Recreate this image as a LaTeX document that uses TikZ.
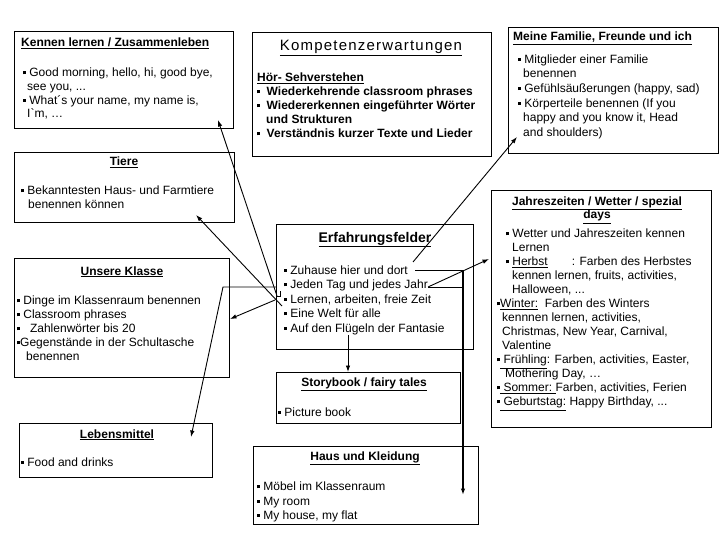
\documentclass[tikz,border=0pt]{standalone}
\usepackage{fontspec}
\setmainfont{Liberation Sans}
\usetikzlibrary{arrows.meta}
\tikzset{>=latex}
\tikzset{box/.style = {draw, line width=0.9pt, anchor=north west, inner sep=0pt}}
\tikzset{head/.style = {anchor=base, inner sep=0pt, font=\fontsize{12}{13}\selectfont\bfseries}}
\tikzset{body/.style = {anchor=north west, yshift=11pt, inner sep=0pt, align=left,
    execute at begin node=\rule{0pt}{11pt}}}
\tikzset{edge/.style = {->, line width=0.9pt, > = {Latex[length=6.5pt, width=4.5pt]}}}
\newcommand{\blt}{\rule[2.5pt]{3pt}{3pt}\hspace{3.2pt}}
\newcommand{\bltb}{\rule[2.5pt]{3pt}{3pt}}

\begin{document}
\begin{tikzpicture}[x=1pt, y=-1pt, font=\fontsize{12}{13.8}\selectfont]
            \useasboundingbox (0,0) rectangle (720,540);

            % boxes
            \node[box, minimum width=219, minimum height=97] (kennen) at (14,31) {};
            \node[box, minimum width=239, minimum height=124] (kompetenz) at (252,32) {};
            \node[box, minimum width=210, minimum height=126] (familie) at (508,27) {};
            \node[box, minimum width=220, minimum height=70] (tiere) at (14,152) {};
            \node[box, minimum width=197, minimum height=125] (erfahrung) at (276,224) {};
            \node[box, minimum width=220, minimum height=237] (jahres) at (491,190) {};
            \node[box, minimum width=215, minimum height=119] (klasse) at (14,258) {};
            \node[box, minimum width=184, minimum height=51] (story) at (276,372) {};
            \node[box, minimum width=225, minimum height=78] (haus) at (253,446) {};
            \node[box, minimum width=193, minimum height=54] (lebens) at (19,423) {};

            % texts
            \node[head, anchor=base west] (kennenhead) at (21,47) {\underline{Kennen lernen / Zusammenleben}};
            \node[body, font=\fontsize{12}{13.7}\selectfont] (kennenbody) at (23,79) {\blt Good morning, hello, hi, good bye,\\
                \hspace*{4pt}see you, ...\\
                \blt What´s your name, my name is,\\
                \hspace*{4pt}I\textasciigrave m, …};

            \node[anchor=base, inner sep=0pt, font=\fontsize{15}{18}\selectfont\addfontfeature{LetterSpace=8}] (kompetenzhead) at (371,51) {\underline{Kompetenzerwartungen}};
            \node[body, font=\fontsize{12}{14}\selectfont\bfseries] (kompetenzbody) at (257,84) {\underline{Hör- Sehverstehen}\\
                \blt\ Wiederkehrende classroom phrases\\
                \blt\ Wiedererkennen eingeführter Wörter\\
                \hspace*{9pt}und Strukturen\\
                \blt\ Verständnis kurzer Texte und Lieder};

            \node[head, anchor=base west] (familiehead) at (513,41) {\underline{Meine Familie, Freunde und ich}};
            \node[body, font=\fontsize{12}{14.6}\selectfont] (familiebody) at (518,65.5) {\blt Mitglieder einer Familie\\
                \hspace*{5pt}benennen\\
                \blt Gefühlsäußerungen (happy, sad)\\
                \blt Körperteile benennen (If you\\
                \hspace*{5pt}happy and you know it, Head\\
                \hspace*{5pt}and shoulders)};

            \node[head] (tierehead) at (124,166) {\underline{Tiere}};
            \node[body, font=\fontsize{12}{14}\selectfont] (tierebody) at (21,197) {\blt Bekanntesten Haus- und Farmtiere\\
                \hspace*{7pt}benennen können};

            \node[head, font=\fontsize{14}{16}\selectfont\bfseries] (erfahrunghead) at (375,242) {\underline{Erfahrungsfelder}};
            \node[body, font=\fontsize{12}{14.5}\selectfont] (erfahrungbody) at (284,276.5) {\blt Zuhause hier und dort\\
                \blt Jeden Tag und jedes Jahr\\
                \blt Lernen, arbeiten, freie Zeit\\
                \blt Eine Welt für alle\\
                \blt Auf den Flügeln der Fantasie};

            \node[head, body, anchor=north, align=center, font=\fontsize{12}{13.5}\selectfont\bfseries] (jahreshead) at (597,207.5) {\underline{Jahreszeiten / Wetter / spezial}\\ \underline{days}};
            \node[body, font=\fontsize{12}{14}\selectfont] (jahresbody) at (495,240) {\hspace*{11pt}\blt Wetter und Jahreszeiten kennen\\
                \hspace*{17pt}Lernen\\
                \hspace*{11pt}\blt\underline{Herbst}\hspace{24pt}: Farben des Herbstes\\
                \hspace*{17pt}kennen lernen, fruits, activities,\\
                \hspace*{17pt}Halloween, ...\\
                \hspace*{2pt}\bltb\underline{Winter:}\ \ Farben des Winters\\
                \hspace*{7pt}kennnen lernen, activities,\\
                \hspace*{7pt}Christmas, New Year, Carnival,\\
                \hspace*{7pt}Valentine\\
                \hspace*{2pt}\bltb\underline{\ Frühling}: Farben, activities, Easter,\\
                \hspace*{10pt}Mothering Day, …\\
                \hspace*{2pt}\bltb\underline{\ Sommer:\ }Farben, activities, Ferien\\
                \hspace*{2pt}\bltb\underline{\ Geburtstag:} Happy Birthday, ...};

            \node[head] (klassehead) at (122,275) {\underline{Unsere Klasse}};
            \node[body, font=\fontsize{12}{14}\selectfont] (klassebody) at (17,307) {\blt Dinge im Klassenraum benennen\\
                \blt Classroom phrases\\
                \blt\ \ Zahlenwörter bis 20\\
                \bltb Gegenstände in der Schultasche\\
                \hspace*{9pt}benennen};

            \node[head] (storyhead) at (364,386) {\underline{Storybook / fairy tales}};
            \node[body] (storybody) at (278,416) {\blt Picture book};

            \node[head] (haushead) at (365,460) {\underline{Haus und Kleidung}};
            \node[body, font=\fontsize{12}{14.3}\selectfont] (hausbody) at (257,493) {\blt Möbel im Klassenraum\\
                \blt My room\\
                \blt My house, my flat};

            \node[head] (lebenshead) at (117,438) {\underline{Lebensmittel}};
            \node[body] (lebensbody) at (21,466) {\blt Food and drinks};

            % connector ends
            \coordinate (kennenfoot) at (277,296);
            \coordinate (kennentip) at (218,120);
            \coordinate (tierefoot) at (282,306);
            \coordinate (tieretip) at (196,215);
            \coordinate (klassefoot) at (275,300);
            \coordinate (klassetip) at (230,319);
            \coordinate (lebensbend) at (223,287);
            \coordinate (lebenstip) at (191,437);
            \coordinate (familiefoot) at (413,262);
            \coordinate (familietip) at (517,137);
            \coordinate (jahresfoot) at (428,287);
            \coordinate (jahrestip) at (489,259);
            \coordinate (hausfoot) at (415,270);
            \coordinate (hausbend) at (463,270);
            \coordinate (haustip) at (463,495);
            \coordinate (storyfoot) at (348,335);

            % connectors
            \draw[edge] (kennenfoot) -- (kennentip);
            \draw[line width=0.9pt] (kennenfoot) -- ++(3,0) -- ++(0,-5);
            \draw[edge] (tierefoot) -- (tieretip);
            \draw[edge] (klassefoot) -- (klassetip);
            \draw[edge] (erfahrung.west) -- (lebensbend) -- (lebenstip);
            \draw[edge] (familiefoot) -- (familietip);
            \draw[edge] (jahresfoot) -- (jahrestip);
            \draw[line width=0.9pt] (jahresfoot) -- (jahresfoot -| hausbend);
            \draw[line width=0.9pt] (hausfoot) -- (hausbend);
            \draw[edge, line width=1.8pt] (hausbend) -- (haustip);
            \draw[edge] (storyfoot) -- (storyfoot |- story.north);
\end{tikzpicture}
\end{document}
